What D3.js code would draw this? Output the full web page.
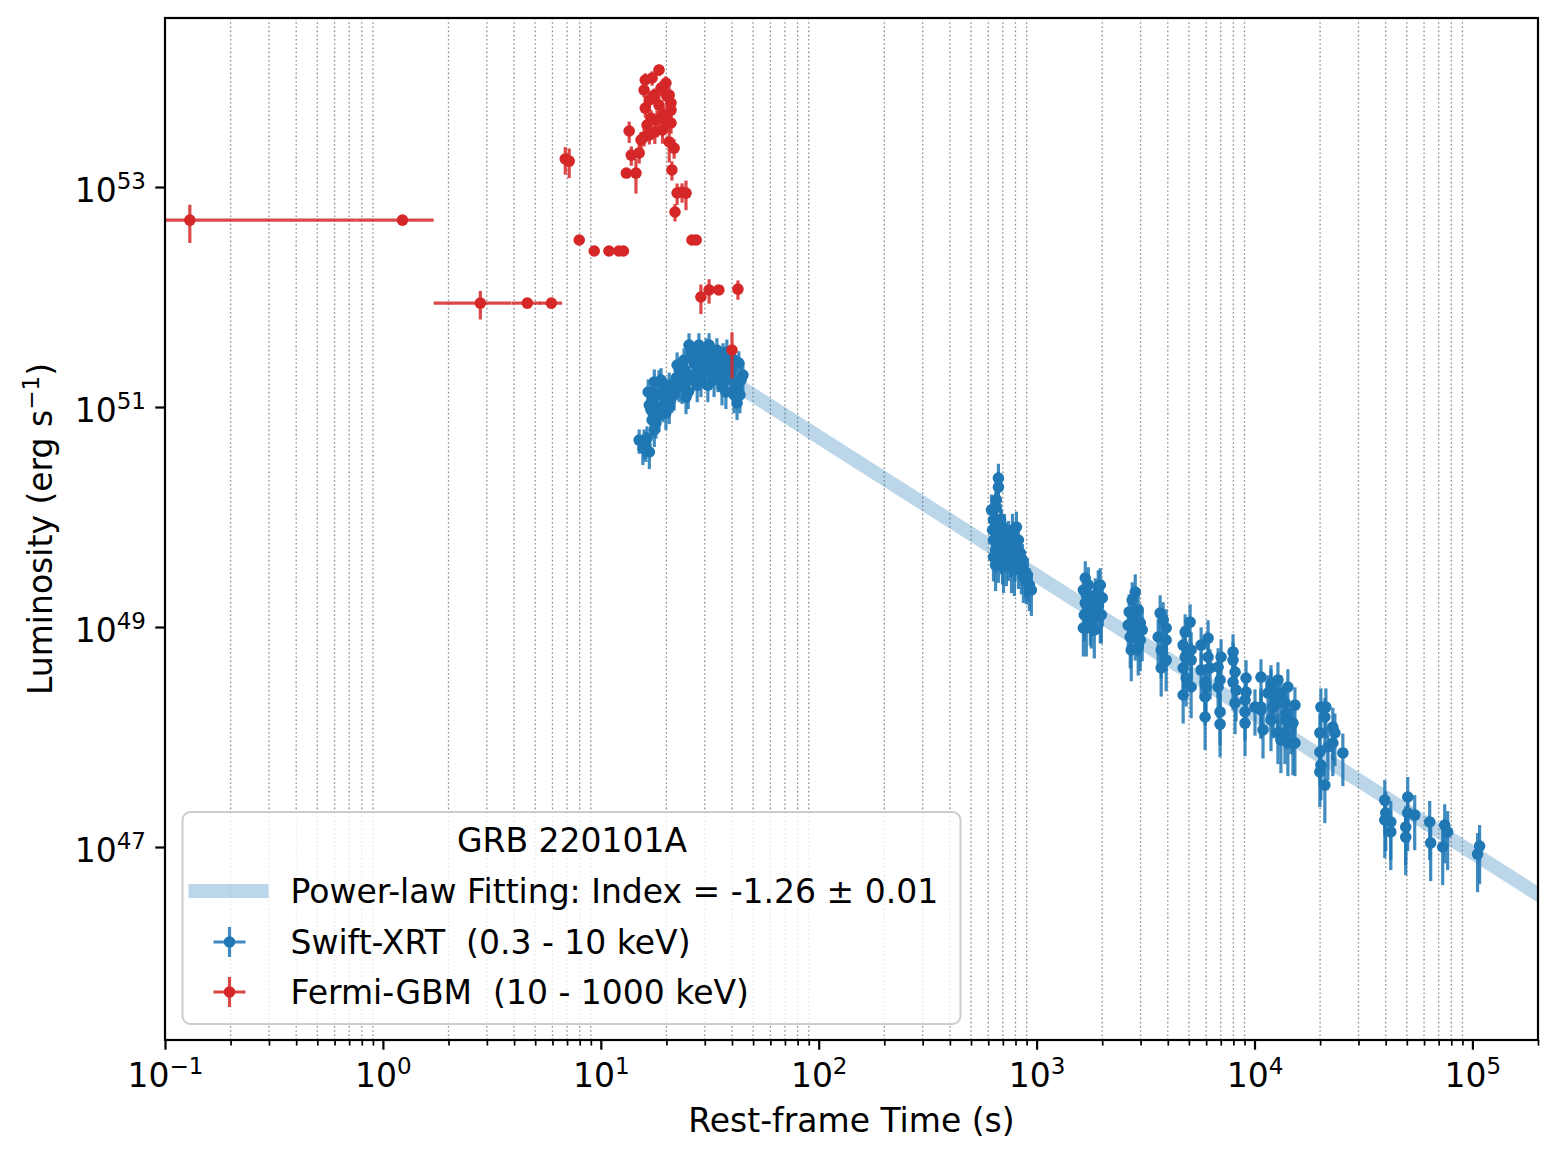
<!DOCTYPE html>
<html>
<head>
<meta charset="utf-8">
<script src="https://cdn.jsdelivr.net/npm/d3@7"></script>
<style>
  body { margin: 0; background: #fff; }
  text { font-family: "DejaVu Sans", sans-serif; fill: #000; white-space: pre; }
</style>
</head>
<body>
<div id="chart"></div>
<script>

// ---------------- data ----------------

// Fermi-GBM (10 - 1000 keV): rest-frame time (s), time half-width (s), luminosity (erg/s), fractional error
const gbmTime = [
  0.13, 1.23, 2.80, 4.60, 5.93,
  6.87, 7.16, 7.96, 9.33, 10.9, 12.1, 12.7, 13.1, 14.5,
  13.5, 13.8, 15.0, 15.3, 15.8, 16.7, 18.5, 16.0, 17.2, 15.8, 19.9, 16.0, 21.0, 21.0, 21.0, 20.6, 21.7, 21.2,
  16.7, 17.6, 18.5, 18.9, 19.5, 18.1, 17.0, 20.1, 16.3, 19.2, 20.6, 17.7, 20.1,
  22.4, 23.6, 24.6, 21.9, 26.2, 27.4, 28.8, 31.4, 34.8, 42.6, 40.0
];
const gbmTimeErr = [
  0.62, 0.48, 1.09, 0.70, 0.72,
  0.15, 0.15, 0.40, 0.50, 0.30, 0.20, 0.20, 0.25, 0.25,
  0.15, 0.15, 0.15, 0.15, 0.15, 0.15, 0.15, 0.15, 0.15, 0.15, 0.15, 0.15, 0.15, 0.15, 0.15, 0.15, 0.15, 0.15,
  0.15, 0.15, 0.15, 0.15, 0.15, 0.15, 0.15, 0.15, 0.15, 0.15, 0.15, 0.15, 0.15,
  0.30, 0.30, 0.50, 0.30, 0.50, 0.50, 0.60, 0.80, 1.00, 0.80, 0.50
];
const gbmLum = [
  5.0e52, 5.0e52, 8.8e51, 8.8e51, 8.8e51,
  1.80e53, 1.72e53, 3.30e52, 2.62e52, 2.62e52, 2.62e52, 2.62e52, 1.34e53, 1.34e53,
  3.23e53, 1.95e53, 2.04e53, 2.68e53, 2.85e53, 2.97e53, 1.16e54, 9.4e53, 9.8e53, 7.62e53, 8.82e53, 5.22e53, 5.8e53, 5.01e53, 3.82e53, 2.57e53, 2.26e53, 1.43e53,
  6.18e53, 6.85e53, 5.56e53, 7.94e53, 4.52e53, 4.06e53, 4.24e53, 6.71e53, 3.66e53, 3.3e53, 6.85e53, 3.16e53, 4.06e53,
  8.82e52, 9.0e52, 8.8e52, 5.93e52, 3.30e52, 3.30e52, 1.0e52, 1.16e52, 1.16e52, 1.18e52, 3.3e51
];
const gbmLumErr = [
  0.38, 0.05, 0.29, 0.05, 0.05,
  0.28, 0.30, 0.08, 0.10, 0.06, 0.06, 0.06, 0.10, 0.35,
  0.22, 0.20, 0.20, 0.18, 0.18, 0.18, 0.12, 0.15, 0.15, 0.15, 0.15, 0.18, 0.20, 0.20, 0.20, 0.35, 0.20, 0.20,
  0.18, 0.15, 0.25, 0.15, 0.20, 0.22, 0.18, 0.20, 0.20, 0.25, 0.18, 0.22, 0.20,
  0.22, 0.20, 0.30, 0.18, 0.08, 0.08, 0.30, 0.25, 0.08, 0.20, 0.45
];

// Swift-XRT (0.3 - 10 keV): rest-frame time (s), luminosity (erg/s), fractional error
const xrtTime = [
  15.8, 16.7, 16.3, 15.0, 17.2, 17.9, 17.0, 17.2, 17.6, 18.5, 17.2, 19.9, 20.6, 21.2, 21.7, 22.2, 22.9, 23.6,
  24.6, 25.9, 26.8, 28.2, 29.1, 30.4, 31.4, 32.4, 34.1, 34.8, 36.0, 37.5, 38.7, 40.0, 41.7, 42.2, 43.0, 25.4,
  27.7, 29.8, 33.1, 36.8, 40.9, 44.0, 18.9, 20.1, 24.1, 31.4, 37.9, 35.6, 28.2, 22.9, 16.1, 17.6, 18.5, 19.3,
  18.1, 18.1, 18.9, 19.7, 20.6, 21.7, 22.4, 23.4, 24.4, 25.2, 26.5, 27.4, 28.8, 30.1, 31.0,
  32.0, 33.4, 34.5, 36.4, 37.5, 39.1, 40.9, 42.6, 43.5, 44.9, 16.7, 15.6, 16.5, 28.2, 25.4,
  668, 668, 648, 648, 654, 634, 648, 634, 668, 683, 690, 705, 743, 759, 767, 808, 825,
  843, 825, 852, 870, 898, 927, 889, 634, 668, 705, 727, 621, 783, 690, 648, 796,
  654, 683, 712, 743, 775, 791, 817, 861, 908, 946, 628, 697,
  1673, 1691, 1673, 1691, 1960, 1960, 1820, 1782, 1727, 1639, 1919, 1982, 1764, 1764, 1879, 1840,
  1639, 1727, 1859, 1919, 1656, 2002,
  2836, 2926, 2990, 2634, 2690, 2926, 2719, 2836, 2776, 2990, 2747, 2895, 2661, 3052,
  3690, 3932, 3614, 3932, 3730, 3932, 3730, 3810,
  5064, 4806, 4705, 5118, 4806, 5118, 4705, 4857, 5118, 4705,
  6124, 5689, 6124, 5689, 6254, 5933, 5996, 5933, 5933,
  7024, 6806, 6950, 6806, 6950, 6950,
  7970, 7970, 8143, 7970, 8229, 9144, 9144, 9048, 8143, 9048, 9048,
  10050, 10710, 10710, 10940, 11900, 12150, 12810, 13220, 13800, 13940, 14700, 15010, 15330, 12810,
  13220, 11900, 11530, 14230, 13800, 10710, 11900, 12810, 15010, 15330, 13940, 14230, 12410,
  20170, 21260, 19950, 21030, 22880, 23380, 19950, 20170, 19950, 21030, 22880, 21710, 25440,
  39620, 40040, 39620, 42210, 42210, 50490, 50490, 49430, 49430, 54350, 63670, 64350, 74610, 73050, 76980,
  107900, 105600
];
const xrtLum = [
  4.81e50, 3.90e50, 5.22e50, 5.01e50, 7.62e50, 7.16e50, 9.40e50, 1.37e51, 1.69e51, 1.69e51, 1.16e51, 8.82e50, 1.00e51, 1.23e51, 1.52e51, 1.84e51, 2.17e51, 1.52e51,
  1.23e51, 3.16e51, 2.51e51, 3.10e51, 2.67e51, 3.30e51, 2.31e51, 2.85e51, 3.30e51, 2.51e51, 1.52e51, 1.76e51, 2.67e51, 2.17e51, 1.52e51, 1.09e51, 2.51e51, 1.76e51,
  1.58e51, 2.08e51, 1.76e51, 2.08e51, 1.29e51, 1.76e51, 1.29e51, 1.16e51, 2.67e51, 3.66e51, 3.16e51, 2.31e51, 2.17e51, 1.58e51, 4.52e50, 6.18e50, 8.45e50, 1.04e51,
  1.29e51, 9.4e50, 1.76e51, 1.43e51, 1.58e51, 1.29e51, 2.41e51, 1.95e51, 2.17e51, 1.37e51, 1.95e51, 2.67e51, 1.76e51, 2.57e51, 1.58e51,
  2.17e51, 2.67e51, 1.95e51, 2.97e51, 1.37e51, 1.84e51, 2.67e51, 1.58e51, 1.29e51, 1.95e51, 1.04e51, 4.24e50, 1.37e51, 3.66e51, 3.66e51,
  2.26e50, 1.87e50, 1.21e50, 9.4e49, 7.62e49, 6.18e49, 5.01e49, 4.33e49, 4.06e49, 6.18e49, 5.01e49, 3.51e49, 6.58e49, 4.71e49, 3.51e49, 8.11e49, 6.18e49,
  4.71e49, 3.82e49, 3.30e49, 2.85e49, 2.67e49, 2.41e49, 3.10e49, 9.4e49, 7.62e49, 5.56e49, 4.06e49, 1.16e50, 5.56e49, 8.45e49, 3.66e49, 4.33e49,
  1.43e50, 9.4e49, 7.62e49, 4.52e49, 7.62e49, 3.30e49, 5.01e49, 4.06e49, 2.97e49, 2.17e49, 7.62e49, 4.06e49,
  2.79e49, 1.95e49, 1.65e49, 9.8e48, 2.41e49, 1.29e49, 1.43e49, 1.16e49, 1.52e49, 9.8e48, 2.31e49, 1.29e49, 1.87e49, 1.23e49, 1.76e49, 9.4e48,
  2.17e49, 2.41e49, 1.95e49, 1.58e49, 1.29e49, 1.84e49,
  2.08e49, 1.43e49, 1.09e49, 1.04e49, 8.11e48, 6.58e48, 6.18e48, 9.0e48, 1.29e49, 7.62e48, 1.76e49, 1.04e49, 1.37e49, 9.4e48,
  1.34e49, 9.8e48, 8.11e48, 7.62e48, 6.18e48, 5.01e48, 4.24e48, 1.16e49,
  1.11e49, 9.0e48, 6.85e48, 6.18e48, 5.34e48, 5.01e48, 4.24e48, 3.44e48, 2.85e48, 2.41e48,
  7.94e48, 6.85e48, 5.34e48, 4.06e48, 4.24e48, 3.16e48, 2.85e48, 2.31e48, 1.52e48,
  5.34e48, 4.33e48, 3.30e48, 2.85e48, 1.69e48, 1.31e48,
  5.93e48, 5.01e48, 3.90e48, 3.16e48, 2.67e48, 3.44e48, 2.56e48, 2.17e48, 2.04e48, 1.69e48, 1.34e48,
  1.87e48, 3.51e48, 1.87e48, 1.16e48, 3.10e48, 1.87e48, 3.30e48, 2.51e48, 2.04e48, 1.43e48, 1.34e48, 9.0e47, 1.95e48, 1.09e48,
  9.4e47, 1.43e48, 2.51e48, 2.85e48, 1.09e48, 1.76e48, 2.85e48, 2.04e48, 1.34e48, 8.82e47, 1.65e48, 8.82e47, 2.41e48,
  1.87e48, 1.87e48, 1.09e48, 1.52e48, 1.23e48, 1.09e48, 7.31e47, 5.56e47, 4.81e47, 3.66e47, 8.82e47, 8.11e47, 7.16e47,
  2.67e47, 2.04e47, 1.76e47, 1.69e47, 1.37e47, 2.85e47, 2.04e47, 1.52e47, 1.23e47, 1.95e47, 1.69e47, 1.09e47, 1.58e47, 1.00e47, 1.37e47,
  1.02e47, 8.63e46
];
const xrtLumErr = [
  0.30, 0.30, 0.28, 0.25, 0.30, 0.28, 0.30, 0.30, 0.30, 0.28, 0.30, 0.30, 0.30, 0.28, 0.30, 0.30, 0.28, 0.30,
  0.30, 0.28, 0.30, 0.28, 0.30, 0.28, 0.30, 0.30, 0.28, 0.30, 0.32, 0.30, 0.30, 0.32, 0.32, 0.30, 0.28, 0.30,
  0.30, 0.30, 0.30, 0.30, 0.32, 0.30, 0.30, 0.30, 0.28, 0.28, 0.30, 0.30, 0.30, 0.30, 0.30, 0.30, 0.30, 0.30,
  0.30, 0.30, 0.28, 0.30, 0.30, 0.28, 0.30, 0.30, 0.28, 0.30, 0.30, 0.28, 0.30, 0.30, 0.30,
  0.28, 0.30, 0.30, 0.28, 0.30, 0.30, 0.28, 0.30, 0.32, 0.30, 0.30, 0.30, 0.30, 0.28, 0.28,
  0.35, 0.38, 0.38, 0.40, 0.38, 0.40, 0.38, 0.40, 0.38, 0.40, 0.40, 0.42, 0.40, 0.40, 0.42, 0.38, 0.40,
  0.40, 0.42, 0.40, 0.42, 0.40, 0.42, 0.40, 0.38, 0.40, 0.40, 0.42, 0.38, 0.40, 0.38, 0.42, 0.40,
  0.38, 0.40, 0.40, 0.42, 0.40, 0.42, 0.40, 0.40, 0.42, 0.42, 0.40, 0.40,
  0.42, 0.45, 0.42, 0.45, 0.42, 0.45, 0.42, 0.45, 0.42, 0.45, 0.42, 0.45, 0.42, 0.45, 0.42, 0.45,
  0.42, 0.45, 0.42, 0.45, 0.42, 0.45,
  0.45, 0.45, 0.48, 0.45, 0.48, 0.45, 0.48, 0.45, 0.45, 0.48, 0.45, 0.48, 0.45, 0.48,
  0.45, 0.48, 0.45, 0.48, 0.45, 0.48, 0.45, 0.45,
  0.45, 0.45, 0.48, 0.45, 0.48, 0.45, 0.48, 0.45, 0.48, 0.45,
  0.45, 0.45, 0.48, 0.45, 0.48, 0.45, 0.48, 0.45, 0.50,
  0.45, 0.48, 0.45, 0.48, 0.50, 0.50,
  0.45, 0.45, 0.48, 0.45, 0.48, 0.45, 0.48, 0.45, 0.48, 0.45, 0.50,
  0.45, 0.45, 0.48, 0.45, 0.45, 0.48, 0.45, 0.45, 0.48, 0.45, 0.48, 0.50, 0.45, 0.48,
  0.50, 0.48, 0.45, 0.45, 0.48, 0.45, 0.45, 0.48, 0.45, 0.50, 0.48, 0.50, 0.45,
  0.48, 0.48, 0.50, 0.48, 0.50, 0.50, 0.50, 0.52, 0.52, 0.55, 0.50, 0.50, 0.50,
  0.52, 0.55, 0.55, 0.55, 0.55, 0.52, 0.55, 0.55, 0.55, 0.52, 0.55, 0.55, 0.55, 0.55, 0.55,
  0.55, 0.55
];

// power-law fit: L = fitNorm * t^fitIndex, drawn from fitStart onwards
const fitIndex = -1.26;
const fitIndexErr = 0.01;
const fitNorm = 1.77e53;
const fitStart = 43;
const fitEnd = 3e5;

const legendTitle = "GRB 220101A";
const xrtLabel = "Swift-XRT  (0.3 - 10 keV)";
const gbmLabel = "Fermi-GBM  (10 - 1000 keV)";

const xDomain = [0.1, 2e5];
const yDomain = [1.76e45, 3.44e54];
const yTickValues = [1e47, 1e49, 1e51, 1e53];

// ---------------- layout ----------------

const W = 1559, H = 1159;
const margin = {top: 18, right: 21, bottom: 119, left: 165};
const width = W - margin.left - margin.right;
const height = H - margin.top - margin.bottom;

const blue = "#1f77b4", red = "#d62728";

const svg = d3.select("#chart").append("svg")
    .attr("width", W)
    .attr("height", H);

svg.append("rect").attr("width", W).attr("height", H).attr("fill", "#fff");

const g = svg.append("g")
    .attr("transform", "translate(" + margin.left + "," + margin.top + ")");

g.append("clipPath").attr("id", "plotclip")
    .append("rect").attr("width", width).attr("height", height);

// scales
const x = d3.scaleLog().domain(xDomain).range([0, width]);
const y = d3.scaleLog().domain(yDomain).range([height, 0]);

const isPow10 = v => Math.abs(Math.log10(v) - Math.round(Math.log10(v))) < 1e-9;
const xAll = x.ticks(50);
const xMajor = xAll.filter(isPow10);
const xMinor = xAll.filter(v => !isPow10(v));

// minor grid (dotted)
g.append("g").attr("class", "grid")
    .selectAll("line")
    .data(xMinor)
    .enter().append("line")
    .attr("x1", d => x(d)).attr("x2", d => x(d))
    .attr("y1", 0).attr("y2", height)
    .attr("stroke", "#8c8c8c")
    .attr("stroke-width", 1.3)
    .attr("stroke-dasharray", "1.6,2.6");

const plot = g.append("g").attr("clip-path", "url(#plotclip)");

// power-law band
const fitLine = d3.line().x(d => x(d[0])).y(d => y(d[1]));
plot.append("path")
    .datum([fitStart, fitEnd].map(t => [t, fitNorm * Math.pow(t, fitIndex)]))
    .attr("d", fitLine)
    .attr("fill", "none")
    .attr("stroke", blue)
    .attr("stroke-opacity", 0.3)
    .attr("stroke-width", 14);

// errorbar helper
function drawErrorbars(layer, times, lums, errs, terrs, color) {
    const pts = times.map((t, i) => ({t: t, L: lums[i], e: errs[i], te: terrs ? terrs[i] : 0}));

    layer.append("g").selectAll("line")
        .data(pts)
        .enter().append("line")
        .attr("x1", d => x(d.t)).attr("x2", d => x(d.t))
        .attr("y1", d => d.e >= 1 ? height : y(d.L * (1 - d.e)))
        .attr("y2", d => y(d.L * (1 + d.e)))
        .attr("stroke", color)
        .attr("stroke-opacity", 0.85)
        .attr("stroke-width", 3.2);

    if (terrs) {
        layer.append("g").selectAll("line")
            .data(pts)
            .enter().append("line")
            .attr("x1", d => d.t - d.te > 0 ? x(d.t - d.te) : -10)
            .attr("x2", d => x(d.t + d.te))
            .attr("y1", d => y(d.L)).attr("y2", d => y(d.L))
            .attr("stroke", color)
            .attr("stroke-opacity", 0.85)
            .attr("stroke-width", 3.2);
    }

    layer.append("g").selectAll("circle")
        .data(pts)
        .enter().append("circle")
        .attr("cx", d => x(d.t))
        .attr("cy", d => y(d.L))
        .attr("r", 5.8)
        .attr("fill", color);
}

drawErrorbars(plot, xrtTime, xrtLum, xrtLumErr, null, blue);
drawErrorbars(plot, gbmTime, gbmLum, gbmLumErr, gbmTimeErr, red);

// ---------------- axes ----------------

function powLabel(sel, e) {
    sel.append("tspan").text("10");
    sel.append("tspan")
        .attr("dy", -13)
        .attr("font-size", 23)
        .text(e < 0 ? "\u2212" + (-e) : String(e));
}

const xAxis = d3.axisBottom(x).tickValues(xMajor).tickSize(9.7).tickFormat("");
const xAxisMinor = d3.axisBottom(x).tickValues(xMinor).tickSize(5.6).tickFormat("");
const yAxis = d3.axisLeft(y).tickValues(yTickValues).tickSize(9.7).tickFormat("");

const gx = g.append("g").attr("transform", "translate(0," + height + ")").call(xAxis);
const gxm = g.append("g").attr("transform", "translate(0," + height + ")").call(xAxisMinor);
const gy = g.append("g").call(yAxis);

[gx, gxm, gy].forEach(a => a.select(".domain").remove());
gx.selectAll(".tick line").attr("stroke", "#000").attr("stroke-width", 2.2);
gxm.selectAll(".tick line").attr("stroke", "#000").attr("stroke-width", 1.7);
gy.selectAll(".tick line").attr("stroke", "#000").attr("stroke-width", 2.2);

gx.selectAll(".tick").each(function(d) {
    const t = d3.select(this).append("text")
        .attr("y", 47)
        .attr("text-anchor", "middle")
        .attr("font-size", 33)
        .attr("fill", "#000");
    powLabel(t, Math.round(Math.log10(d)));
});

gy.selectAll(".tick").each(function(d) {
    const t = d3.select(this).append("text")
        .attr("x", -19)
        .attr("y", 14)
        .attr("text-anchor", "end")
        .attr("font-size", 33)
        .attr("fill", "#000");
    powLabel(t, Math.round(Math.log10(d)));
});

// frame
g.append("rect")
    .attr("width", width).attr("height", height)
    .attr("fill", "none")
    .attr("stroke", "#000")
    .attr("stroke-width", 2.2);

// axis titles
svg.append("text")
    .attr("x", margin.left + width / 2)
    .attr("y", 1132)
    .attr("text-anchor", "middle")
    .attr("font-size", 33)
    .text("Rest-frame Time (s)");

const ylab = svg.append("text")
    .attr("transform", "translate(52," + (margin.top + height / 2) + ") rotate(-90)")
    .attr("text-anchor", "middle")
    .attr("font-size", 33);
ylab.append("tspan").text("Luminosity (erg s");
ylab.append("tspan").attr("dy", -13).attr("font-size", 23).text("\u22121");
ylab.append("tspan").attr("dy", 13).text(")");

// ---------------- legend ----------------

const leg = svg.append("g").attr("transform", "translate(182.5,812)");
leg.append("rect")
    .attr("width", 778).attr("height", 212)
    .attr("rx", 8).attr("ry", 8)
    .attr("fill", "#fff").attr("fill-opacity", 0.8)
    .attr("stroke", "#cccccc").attr("stroke-width", 2);

leg.append("text")
    .attr("x", 389.5).attr("y", 40)
    .attr("text-anchor", "middle")
    .attr("font-size", 33)
    .text(legendTitle);

leg.append("line")
    .attr("x1", 6).attr("x2", 86)
    .attr("y1", 79).attr("y2", 79)
    .attr("stroke", blue).attr("stroke-opacity", 0.3)
    .attr("stroke-width", 14);
leg.append("text")
    .attr("x", 108).attr("y", 91)
    .attr("font-size", 33)
    .text("Power-law Fitting: Index = " + fitIndex.toFixed(2) + " \u00b1 " + fitIndexErr.toFixed(2));

[[xrtLabel, blue, 130], [gbmLabel, red, 180]].forEach(([label, color, cy]) => {
    leg.append("line")
        .attr("x1", 47).attr("x2", 47)
        .attr("y1", cy - 15).attr("y2", cy + 15)
        .attr("stroke", color).attr("stroke-opacity", 0.85).attr("stroke-width", 3.2);
    leg.append("line")
        .attr("x1", 31).attr("x2", 63)
        .attr("y1", cy).attr("y2", cy)
        .attr("stroke", color).attr("stroke-opacity", 0.85).attr("stroke-width", 3.2);
    leg.append("circle")
        .attr("cx", 47).attr("cy", cy).attr("r", 5.8)
        .attr("fill", color);
    leg.append("text")
        .attr("x", 108).attr("y", cy + 12)
        .attr("font-size", 33)
        .text(label);
});

</script>
</body>
</html>
